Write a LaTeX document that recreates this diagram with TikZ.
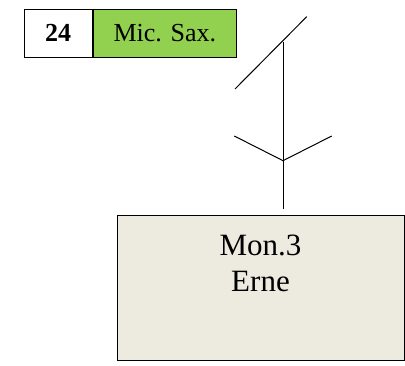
\documentclass[tikz,border=0pt]{standalone}
\usepackage{fontspec}
\setmainfont{Liberation Serif}
\usetikzlibrary{calc}
\definecolor{micgreen}{HTML}{92D050}
\definecolor{monfill}{HTML}{EDEBE0}
\tikzset{
  tagbox/.style={draw,inner sep=0pt,minimum height=48.3pt,anchor=north west,font=\fontsize{26}{30}\selectfont},
}

\begin{document}
\begin{tikzpicture}[x=1pt,y=-1pt,line width=1pt]
    \useasboundingbox (0,0) rectangle (405,366);
    \pgfmathsetmacro{\mx}{283}

    \node[tagbox,fill=white,minimum width=68pt,font=\fontsize{26}{30}\selectfont\bfseries] (num) at (23.7,8.7) {24};
    \node[tagbox,fill=micgreen,minimum width=143.3pt] (mic) at (num.north east) {Mic. Sax.};

    \node[draw,fill=monfill,inner sep=0pt,minimum width=287.6pt,minimum height=145pt,anchor=north west] (mon) at (116.7,215) {};
    \node[align=center,inner sep=0pt,font=\fontsize{31}{35.7}\selectfont] (montext) at (260.5,263.5) {Mon.3\\Erne};

    \coordinate (T) at (\mx,41.7);
    \coordinate (F) at (\mx,160.7);
    \coordinate (E) at (\mx,209);
    \coordinate (D1) at (235,89);
    \coordinate (D2) at (306.7,16.7);
    \coordinate (L) at (234.3,136);
    \coordinate (R) at (331.7,136);

    \draw (T) -- (E);
    \draw (D1) -- (D2);
    \draw (L) -- (F) -- (R);

\end{tikzpicture}
\end{document}
